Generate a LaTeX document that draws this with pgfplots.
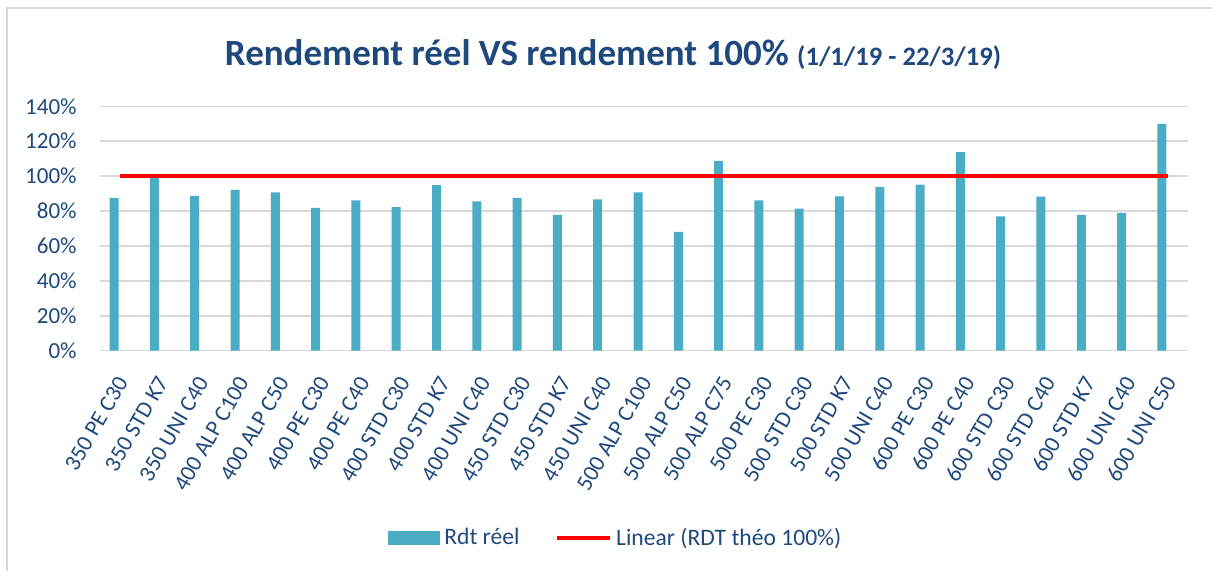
\documentclass[border=0pt]{standalone}
\usepackage{pgfplots}
\pgfplotsset{compat=1.18}
\usepackage{fontspec}
\setmainfont{Carlito}

\definecolor{textblue}{HTML}{1F497D}
\definecolor{barblue}{HTML}{4BACC6}
\definecolor{gridgray}{HTML}{D9D9D9}

\begin{document}
\begin{tikzpicture}
    % page = 1212 x 571 px, 1 px = 0.5 pt, origin at top left
    \useasboundingbox (0pt,0pt) rectangle (606pt,-285.5pt);

    % chart frame (left and top edges only)
    \draw[gridgray, line width=1pt] (3.5pt,-285.5pt) -- (3.5pt,-4pt) -- (606pt,-4pt);

    % title
    \node[anchor=base, text=textblue, inner sep=0pt] at (306.5pt,-33pt)
        {\bfseries\fontsize{18.5}{22}\selectfont Rendement réel VS rendement 100\%
         {\fontsize{13.3}{15}\selectfont (1/1/19 - 22/3/19)}};

    \begin{axis}[
        at={(50pt,-175.35pt)}, anchor=south west,
        scale only axis, width=544pt, height=122.2pt,
        xmin=-0.5, xmax=26.5,
        ymin=0, ymax=140,
        axis line style={draw=none},
        tick style={draw=none},
        ymajorgrids,
        grid style={gridgray, line width=0.75pt},
        ytick={0,20,...,140},
        yticklabels={0\%,20\%,40\%,60\%,80\%,100\%,120\%,140\%},
        yticklabel style={font=\fontsize{11.5}{13}\selectfont, text=textblue,
            anchor=east, inner sep=0pt, xshift=-11.5pt},
        xtick={0,...,26},
        xticklabels={350 PE C30, 350 STD K7, 350 UNI C40, 400 ALP C100,
            400 ALP C50, 400 PE C30, 400 PE C40, 400 STD C30, 400 STD K7,
            400 UNI C40, 450 STD C30, 450 STD K7, 450 UNI C40, 500 ALP C100,
            500 ALP C50, 500 ALP C75, 500 PE C30, 500 STD C30, 500 STD K7,
            500 UNI C40, 600 PE C30, 600 PE C40, 600 STD C30, 600 STD C40,
            600 STD K7, 600 UNI C40, 600 UNI C50},
        xticklabel style={font=\fontsize{11.5}{13}\selectfont, text=textblue,
            inner sep=0pt, xshift=-2.3pt, yshift=-11.8pt, rotate=60, anchor=north east},
        legend columns=2,
        legend style={at={(0.475,-0.766)}, anchor=center, draw=none, fill=none,
            font=\fontsize{11.8}{13}\selectfont, text=textblue,
            /tikz/every even column/.append style={column sep=16pt}},
    ]
        % Rdt reel, in percent
        \addplot[ybar, bar width=4.5pt, bar shift=-3pt, fill=barblue, draw=none,
            legend image code/.code={\fill[barblue] (0pt,-3.5pt) rectangle (26pt,3.5pt);}]
            coordinates {
            (0,87.5) (1,99.3) (2,88.7) (3,92.1) (4,90.7) (5,81.8) (6,86.1)
            (7,82.3) (8,94.9) (9,85.6) (10,87.5) (11,77.8) (12,86.7) (13,90.7)
            (14,68.0) (15,108.7) (16,86.1) (17,81.4) (18,88.4) (19,93.8)
            (20,95.1) (21,113.7) (22,77.0) (23,88.3) (24,77.8) (25,78.9)
            (26,129.9)
        };
        \addlegendentry{Rdt réel}

        % trend line of RDT theo 100%
        \addplot[red, line width=1.8pt,
            legend image code/.code={\draw[red, line width=1.8pt] (0pt,0pt) -- (26.5pt,0pt);}]
            coordinates {(0,100) (26,100)};
        \addlegendentry{Linear (RDT théo 100\%)}
    \end{axis}
\end{tikzpicture}
\end{document}
